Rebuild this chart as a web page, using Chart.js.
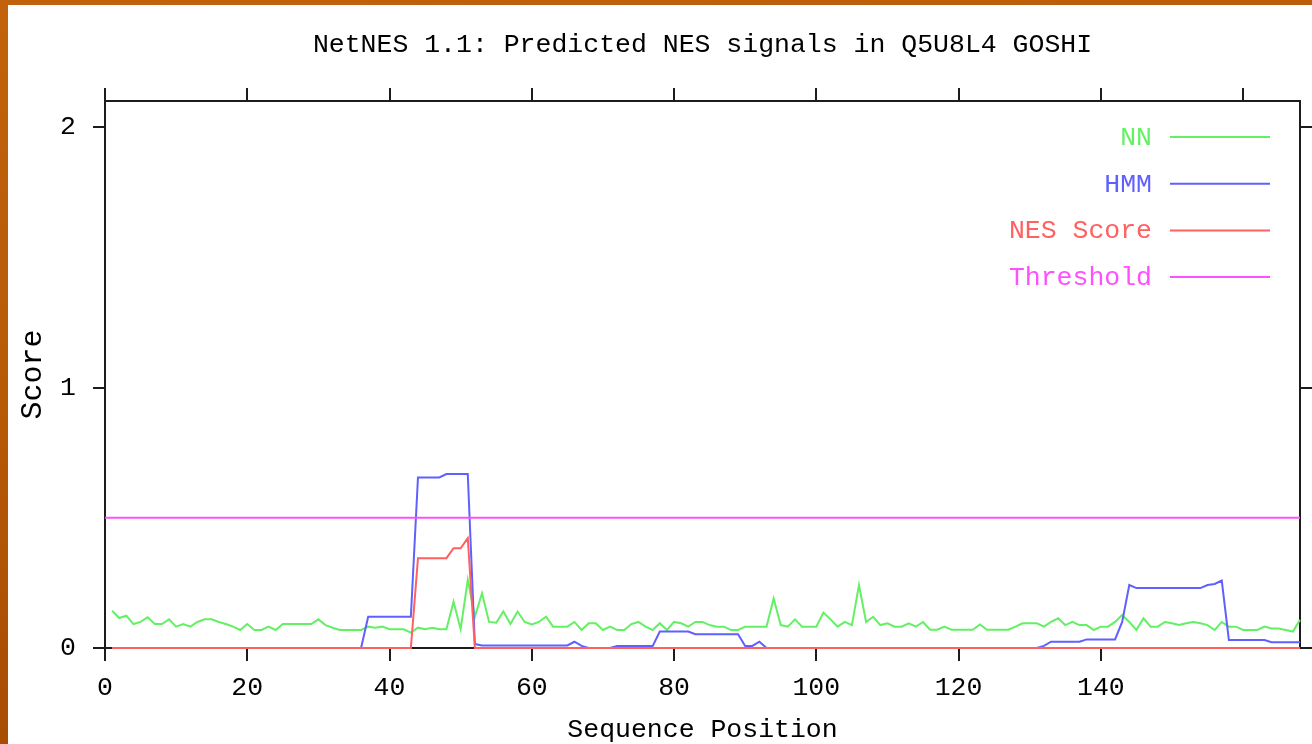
<!DOCTYPE html>
<html>
<head>
<meta charset="utf-8">
<script src="https://cdn.jsdelivr.net/npm/chart.js@4.4.1/dist/chart.umd.min.js"></script>
<style>
html,body{margin:0;padding:0;}
body{width:1312px;height:744px;overflow:hidden;position:relative;
  background:linear-gradient(170deg,#c2620c 0%,#b65806 45%,#9c4400 100%);}
#wrap{position:absolute;left:8px;top:5px;width:1304px;height:739px;background:#ffffff;}
canvas{display:block;}
</style>
</head>
<body>
<div id="wrap"><canvas id="c" width="1304" height="739"></canvas></div>
<script>
// ---- data ----
const positions = [
  1,2,3,4,5,6,7,8,9,10,11,12,13,14,15,16,17,18,19,20,
  21,22,23,24,25,26,27,28,29,30,31,32,33,34,35,36,37,38,39,40,
  41,42,43,44,45,46,47,48,49,50,51,52,53,54,55,56,57,58,59,60,
  61,62,63,64,65,66,67,68,69,70,71,72,73,74,75,76,77,78,79,80,
  81,82,83,84,85,86,87,88,89,90,91,92,93,94,95,96,97,98,99,100,
  101,102,103,104,105,106,107,108,109,110,111,112,113,114,115,116,117,118,119,120,
  121,122,123,124,125,126,127,128,129,130,131,132,133,134,135,136,137,138,139,140,
  141,142,143,144,145,146,147,148,149,150,151,152,153,154,155,156,157,158,159,160,
  161,162,163,164,165,166,167,168
];
const nnScores = [
  0.143,0.115,0.124,0.092,0.100,0.118,0.092,0.092,0.110,0.082,
  0.092,0.082,0.100,0.110,0.110,0.100,0.092,0.082,0.069,0.092,
  0.069,0.069,0.082,0.069,0.092,0.092,0.092,0.092,0.092,0.110,
  0.088,0.078,0.069,0.069,0.069,0.069,0.082,0.078,0.082,0.072,
  0.072,0.072,0.059,0.078,0.072,0.078,0.072,0.072,0.178,0.072,
  0.262,0.120,0.210,0.100,0.097,0.140,0.092,0.140,0.100,0.090,
  0.100,0.120,0.082,0.082,0.082,0.100,0.069,0.095,0.095,0.069,
  0.082,0.069,0.069,0.092,0.100,0.082,0.069,0.095,0.069,0.100,
  0.095,0.082,0.100,0.100,0.088,0.082,0.082,0.069,0.069,0.082,
  0.082,0.082,0.082,0.190,0.088,0.082,0.110,0.082,0.082,0.082,
  0.136,0.110,0.082,0.100,0.088,0.242,0.100,0.120,0.088,0.095,
  0.082,0.082,0.095,0.082,0.100,0.070,0.070,0.082,0.070,0.070,
  0.070,0.070,0.090,0.070,0.070,0.070,0.070,0.082,0.095,0.095,
  0.095,0.082,0.100,0.114,0.088,0.100,0.088,0.088,0.069,0.082,
  0.082,0.100,0.127,0.100,0.069,0.114,0.082,0.082,0.100,0.095,
  0.088,0.095,0.100,0.095,0.088,0.069,0.100,0.082,0.082,0.069,
  0.069,0.069,0.082,0.075,0.075,0.069,0.063,0.108
];
const hmmScores = [
  0,0,0,0,0,0,0,0,0,0,
  0,0,0,0,0,0,0,0,0,0,
  0,0,0,0,0,0,0,0,0,0,
  0,0,0,0,0,0,0.120,0.120,0.120,0.120,
  0.120,0.120,0.120,0.655,0.655,0.655,0.655,0.668,0.668,0.668,
  0.668,0.015,0.010,0.010,0.010,0.010,0.010,0.010,0.010,0.010,
  0.010,0.010,0.010,0.010,0.010,0.024,0.008,0,0,0,
  0,0.008,0.008,0.008,0.008,0.008,0.008,0.063,0.063,0.063,
  0.063,0.063,0.053,0.053,0.053,0.053,0.053,0.053,0.053,0.008,
  0.008,0.024,0,0,0,0,0,0,0,0,
  0,0,0,0,0,0,0,0,0,0,
  0,0,0,0,0,0,0,0,0,0,
  0,0,0,0,0,0,0,0,0,0,
  0,0.008,0.024,0.024,0.024,0.024,0.024,0.033,0.033,0.033,
  0.033,0.033,0.100,0.242,0.230,0.230,0.230,0.230,0.230,0.230,
  0.230,0.230,0.230,0.230,0.242,0.246,0.259,0.031,0.031,0.031,
  0.031,0.031,0.031,0.022,0.022,0.022,0.022,0.022
];
const nesScores = [
  0,0,0,0,0,0,0,0,0,0,
  0,0,0,0,0,0,0,0,0,0,
  0,0,0,0,0,0,0,0,0,0,
  0,0,0,0,0,0,0,0,0,0,
  0,0,0,0.345,0.345,0.345,0.345,0.345,0.383,0.383,
  0.422,0,0,0,0,0,0,0,0,0,
  0,0,0,0,0,0,0,0,0,0,
  0,0,0,0,0,0,0,0,0,0,
  0,0,0,0,0,0,0,0,0,0,
  0,0,0,0,0,0,0,0,0,0,
  0,0,0,0,0,0,0,0,0,0,
  0,0,0,0,0,0,0,0,0,0,
  0,0,0,0,0,0,0,0,0,0,
  0,0,0,0,0,0,0,0,0,0,
  0,0,0,0,0,0,0,0,0,0,
  0,0,0,0,0,0,0,0,0,0,
  0,0,0,0,0,0,0,0
];
const threshold = 0.5;
const xRange = [0, 168];
const xTickStep = 20;
const yRange = [0, 2.1];
const yTickStep = 1;
const seriesLabels = ['NN', 'HMM', 'NES Score', 'Threshold'];
const titleText = 'NetNES 1.1: Predicted NES signals in Q5U8L4 GOSHI';
const xTitle = 'Sequence Position';
const yTitle = 'Score';

// ---- styling ----
const FONT = '"Liberation Mono", "DejaVu Sans Mono", monospace';
const FS = 26.5;
const colors = ['rgb(100,240,100)', 'rgb(96,96,255)', 'rgb(255,96,96)', 'rgb(255,80,255)'];
const axisColor = '#1c1c1c';

const toXY = arr => positions.map((p, i) => ({x: p, y: arr[i]}));

const keepMultiples = step => scale => {
  scale.ticks = scale.ticks.filter(t => Math.abs(t.value / step - Math.round(t.value / step)) < 1e-9);
};

const legendPlugin = {
  id: 'sideLegend',
  afterDatasetsDraw(chart) {
    const {ctx, chartArea} = chart;
    const lineEnd = chartArea.right - 30;
    const lineStart = lineEnd - 100;
    const textRight = lineStart - 18;
    ctx.save();
    ctx.font = FS + 'px ' + FONT;
    ctx.textAlign = 'right';
    ctx.textBaseline = 'middle';
    chart.data.datasets.forEach((ds, i) => {
      const y = chartArea.top + 36 + i * 46.7;
      ctx.fillStyle = ds.borderColor;
      ctx.fillText(ds.label, textRight, y + 1);
      ctx.strokeStyle = ds.borderColor;
      ctx.lineWidth = 2;
      ctx.beginPath();
      ctx.moveTo(lineStart, y);
      ctx.lineTo(lineEnd, y);
      ctx.stroke();
    });
    ctx.restore();
  }
};

const gridCommon = (len) => ({drawOnChartArea: false, drawTicks: true, tickLength: len, color: axisColor, lineWidth: 2});
const borderCommon = {display: true, color: axisColor, width: 2};
const lineDs = (label, data, color, order) => ({
  label, data, borderColor: color, backgroundColor: color, borderWidth: 2,
  pointRadius: 0, tension: 0, order, clip: false
});

new Chart(document.getElementById('c'), {
  type: 'line',
  data: {
    datasets: [
      lineDs(seriesLabels[0], toXY(nnScores), colors[0], 4),
      lineDs(seriesLabels[1], toXY(hmmScores), colors[1], 3),
      lineDs(seriesLabels[2], toXY(nesScores), colors[2], 2),
      lineDs(seriesLabels[3], [{x: xRange[0], y: threshold}, {x: xRange[1], y: threshold}], colors[3], 1)
    ]
  },
  options: {
    responsive: false,
    animation: false,
    devicePixelRatio: 1,
    layout: {padding: 0},
    plugins: {
      legend: {display: false},
      tooltip: {enabled: false},
      title: {
        display: true, text: titleText, color: '#000', fullSize: false,
        font: {family: FONT, size: FS, weight: 'normal', lineHeight: 1},
        padding: {top: 27, bottom: 28.5}
      }
    },
    scales: {
      x: {
        type: 'linear', position: 'bottom', min: xRange[0], max: xRange[1],
        afterBuildTicks: keepMultiples(xTickStep),
        afterFit(s) { s.height = 96; },
        ticks: {stepSize: xTickStep, color: '#000', maxRotation: 0, autoSkip: false, padding: 14,
                font: {family: FONT, size: FS, lineHeight: 1}},
        grid: gridCommon(13), border: borderCommon,
        title: {display: true, text: xTitle, color: '#000', font: {family: FONT, size: FS, lineHeight: 1}, padding: {top: 0, bottom: 1}}
      },
      xTop: {
        type: 'linear', position: 'top', min: xRange[0], max: xRange[1],
        afterBuildTicks: keepMultiples(xTickStep),
        afterFit(s) { s.height = 14; },
        ticks: {display: false, stepSize: xTickStep},
        grid: gridCommon(13), border: borderCommon
      },
      y: {
        type: 'linear', position: 'left', min: yRange[0], max: yRange[1],
        afterBuildTicks: keepMultiples(yTickStep),
        afterFit(s) { s.width = 97; },
        ticks: {stepSize: yTickStep, color: '#000', padding: 17, font: {family: FONT, size: FS, lineHeight: 1}},
        grid: gridCommon(12), border: borderCommon,
        title: {display: true, text: yTitle, color: '#000', font: {family: FONT, size: 30, lineHeight: 1}, padding: {top: 10, bottom: 0}}
      },
      yRight: {
        type: 'linear', position: 'right', min: yRange[0], max: yRange[1],
        afterBuildTicks: keepMultiples(yTickStep),
        afterFit(s) { s.width = 12; },
        ticks: {display: false, stepSize: yTickStep},
        grid: gridCommon(12), border: borderCommon
      }
    }
  },
  plugins: [legendPlugin]
});
</script>
</body>
</html>
